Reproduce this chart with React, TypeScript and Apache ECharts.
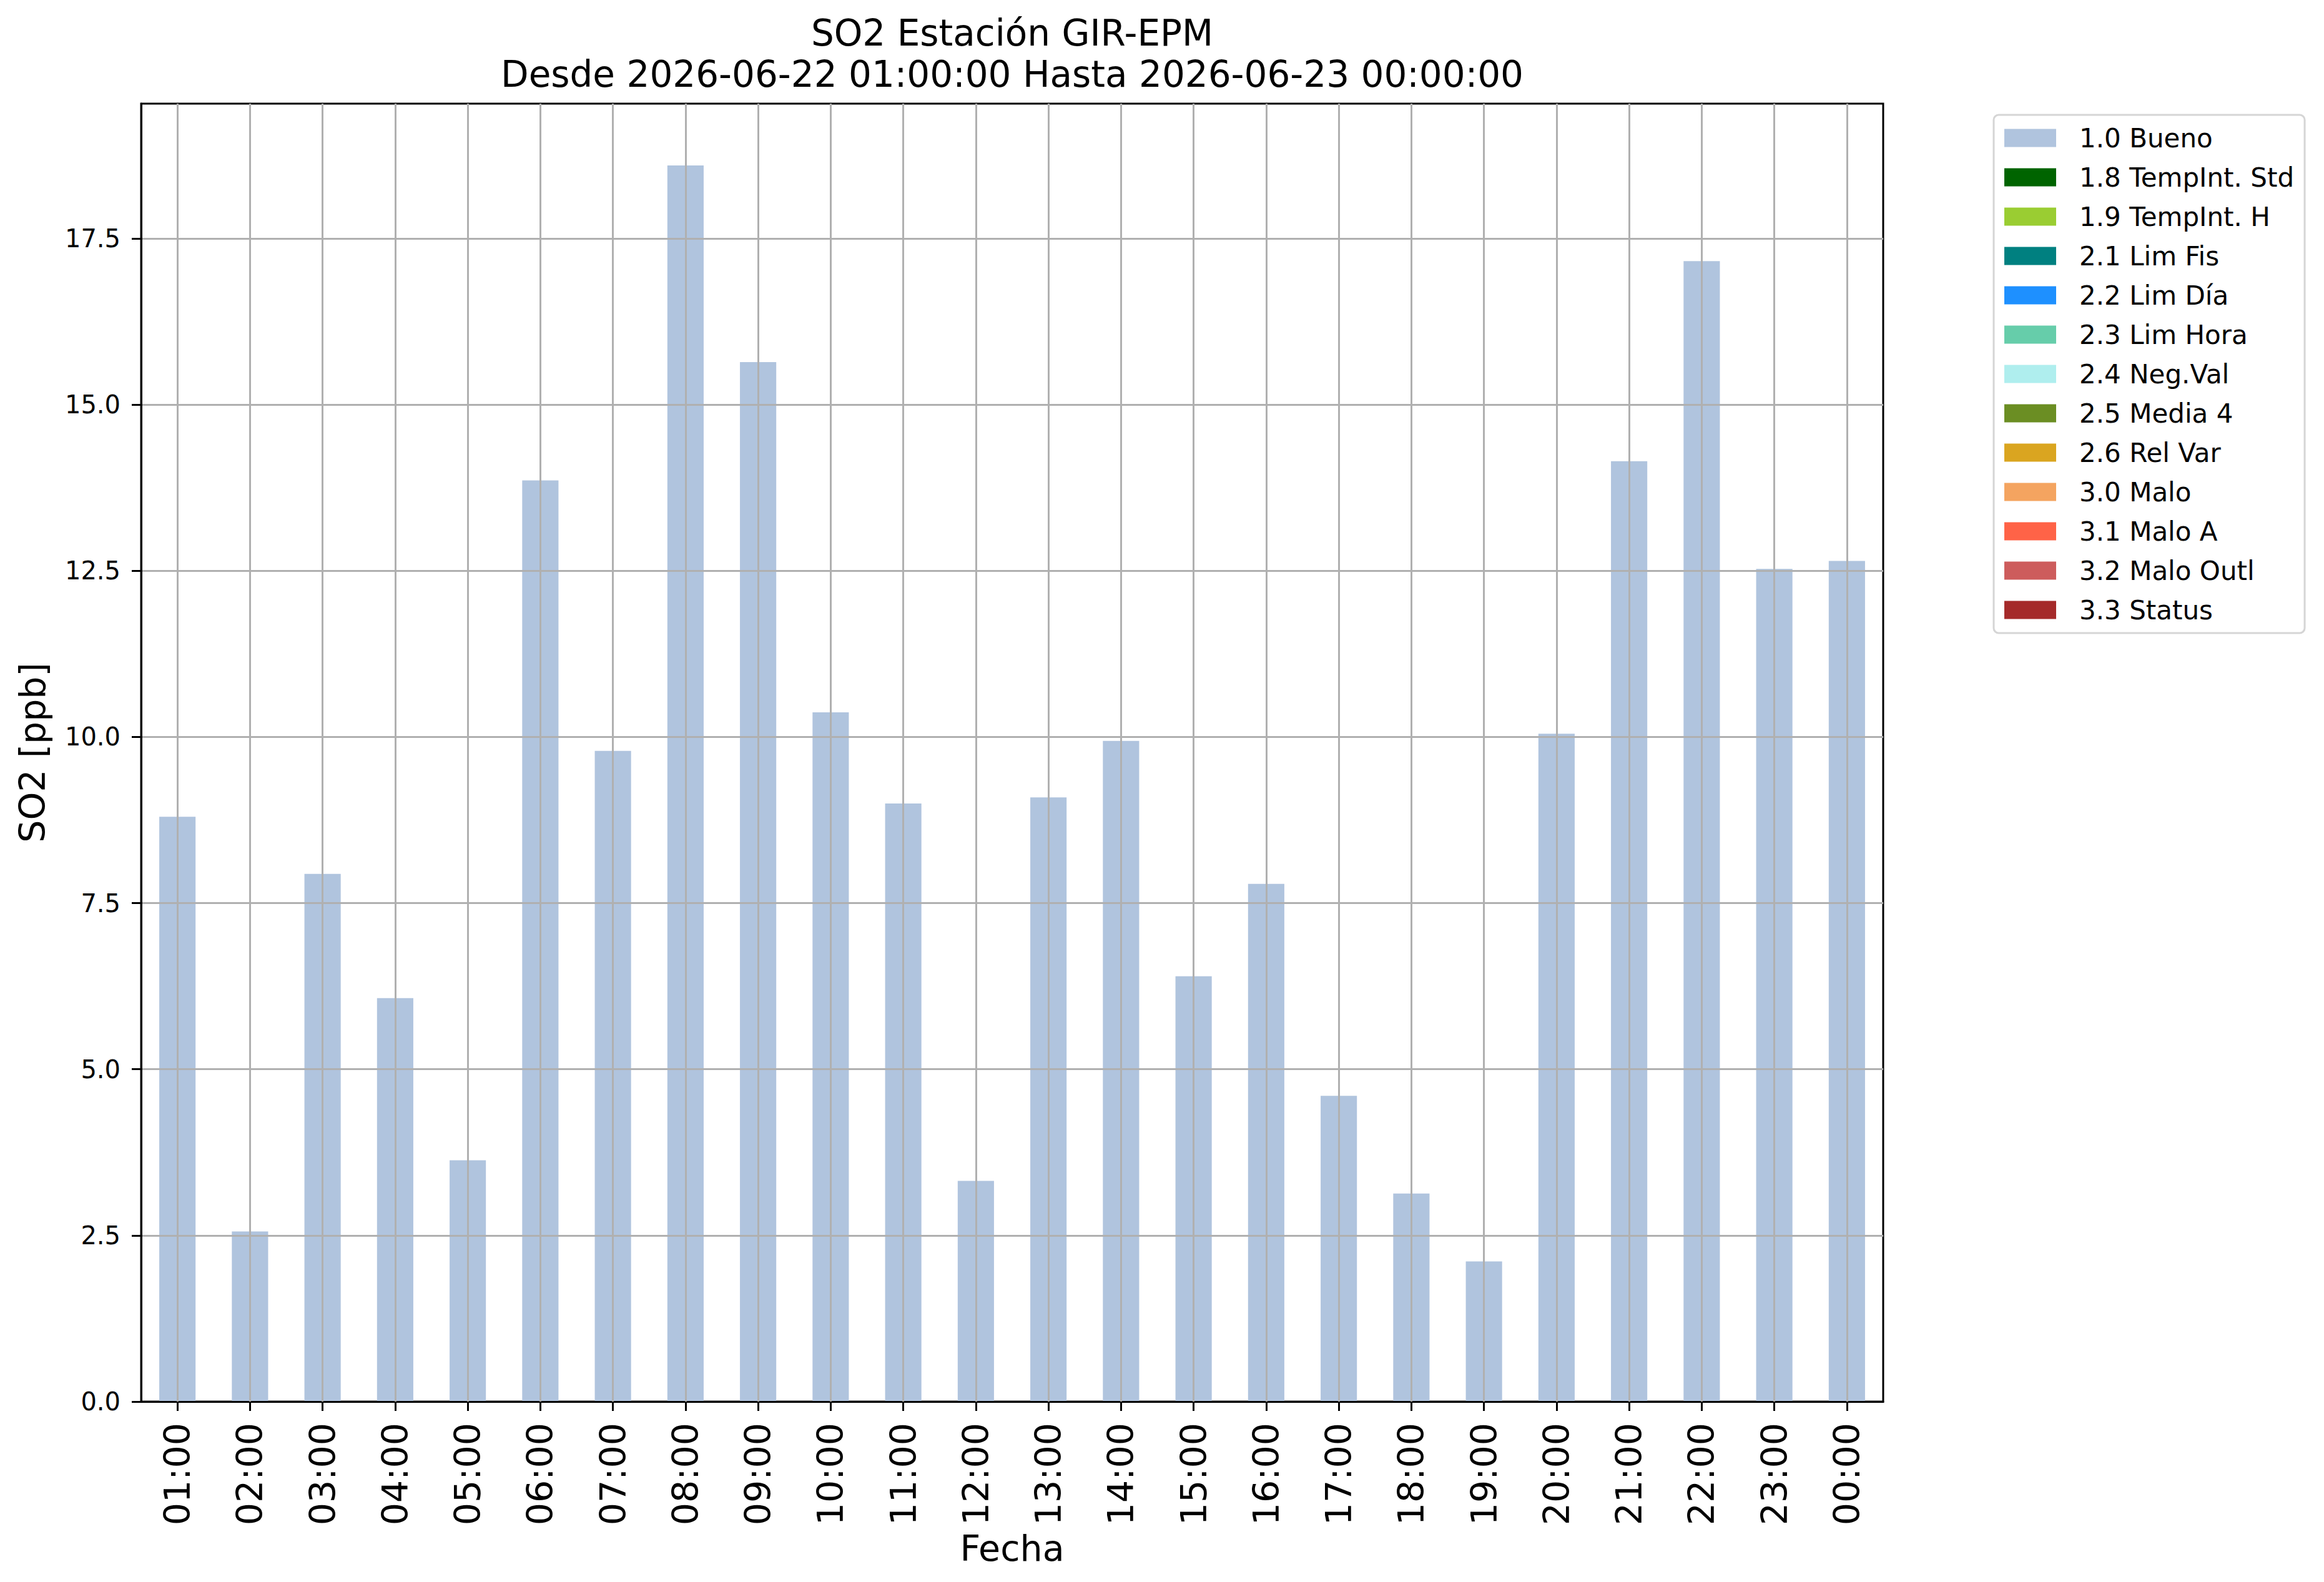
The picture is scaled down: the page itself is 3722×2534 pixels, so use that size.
import React, { useEffect, useRef } from "react";
import * as echarts from "echarts";

const categories = [
  "01:00", "02:00", "03:00", "04:00", "05:00", "06:00", "07:00", "08:00",
  "09:00", "10:00", "11:00", "12:00", "13:00", "14:00", "15:00", "16:00",
  "17:00", "18:00", "19:00", "20:00", "21:00", "22:00", "23:00", "00:00",
];

const buenoValues = [
  8.80, 2.56, 7.94, 6.07, 3.63, 13.86, 9.79, 18.60,
  15.64, 10.37, 9.00, 3.32, 9.09, 9.94, 6.40, 7.79,
  4.60, 3.13, 2.11, 10.05, 14.15, 17.16, 12.53, 12.65,
];

const legendNames = [
  "1.0 Bueno", "1.8 TempInt. Std", "1.9 TempInt. H", "2.1 Lim Fis",
  "2.2 Lim Día", "2.3 Lim Hora", "2.4 Neg.Val", "2.5 Media 4",
  "2.6 Rel Var", "3.0 Malo", "3.1 Malo A", "3.2 Malo Outl", "3.3 Status",
];

const legendColors = [
  "#b0c4de", "#006400", "#9acd32", "#008080", "#1e90ff", "#66cdaa",
  "#afeeee", "#6b8e23", "#daa520", "#f4a460", "#ff6347", "#cd5c5c", "#a52a2a",
];

const yTicks = [0, 2.5, 5, 7.5, 10, 12.5, 15, 17.5];
const yMax = 19.53;

const titleText = "SO2 Estación GIR-EPM\nDesde 2026-06-22 01:00:00 Hasta 2026-06-23 00:00:00";
const xName = "Fecha";
const yName = "SO2 [ppb]";

const FONT = "DejaVu Sans";

export default function App() {
  const ref = useRef<HTMLDivElement>(null);

  useEffect(() => {
    document.body.style.margin = "0";
    if (!ref.current) return;
    const chart = echarts.init(ref.current, null, { renderer: "svg" });

    const series = legendNames.map((name, i) => {
      const s: any = {
        type: "bar",
        name,
        stack: "quality",
        data: i === 0 ? buenoValues : [],
        barWidth: "50%",
        itemStyle: { color: legendColors[i] },
        z: 2,
      };
      if (i === 0) {
        s.markLine = {
          silent: true,
          symbol: ["none", "none"],
          label: { show: false },
          lineStyle: { color: "#b0b0b0", width: 3, type: "solid" },
          data: categories.map((c) => ({ xAxis: c })),
        };
      }
      return s;
    });

    chart.setOption({
      animation: false,
      backgroundColor: "#ffffff",
      textStyle: { fontFamily: FONT },
      title: {
        text: titleText,
        left: 1621,
        textAlign: "center",
        top: 20,
        padding: 0,
        textStyle: {
          fontFamily: FONT,
          fontSize: 58,
          fontWeight: "normal",
          color: "#000",
          lineHeight: 66,
        },
      },
      legend: {
        orient: "vertical",
        left: 3193,
        top: 184,
        padding: [16, 17, 16, 17],
        itemWidth: 83,
        itemHeight: 29,
        itemGap: 21,
        icon: "rect",
        selectedMode: false,
        borderColor: "#d5d5d5",
        borderWidth: 3,
        borderRadius: 8,
        backgroundColor: "#ffffff",
        data: legendNames,
        textStyle: {
          fontFamily: FONT,
          fontSize: 42,
          lineHeight: 42,
          color: "#000",
          padding: [0, 0, 0, 32],
        },
      },
      grid: {
        left: 226,
        right: 706,
        top: 166,
        bottom: 289,
        containLabel: false,
        show: true,
        borderColor: "#000",
        borderWidth: 3,
        backgroundColor: "transparent",
      },
      xAxis: {
        type: "category",
        data: categories,
        z: 3,
        boundaryGap: true,
        name: xName,
        nameLocation: "middle",
        nameGap: 186,
        nameTextStyle: { fontFamily: FONT, fontSize: 57, color: "#000" },
        axisLine: { show: true, lineStyle: { color: "#000", width: 3 } },
        axisTick: {
          show: true,
          alignWithLabel: true,
          length: 15,
          lineStyle: { color: "#000", width: 3 },
        },
        axisLabel: {
          rotate: 90,
          margin: 34,
          fontFamily: FONT,
          fontSize: 57,
          color: "#000",
          interval: 0,
        },
        splitLine: { show: false },
      },
      yAxis: {
        type: "value",
        min: 0,
        max: yMax,
        interval: 2.5,
        z: 3,
        name: yName,
        nameLocation: "middle",
        nameGap: 146,
        nameTextStyle: { fontFamily: FONT, fontSize: 57, color: "#000" },
        axisLine: { show: true, lineStyle: { color: "#000", width: 3 } },
        axisTick: {
          show: true,
          length: 15,
          customValues: yTicks,
          lineStyle: { color: "#000", width: 3 },
        },
        axisLabel: {
          margin: 33,
          fontFamily: FONT,
          fontSize: 40,
          color: "#000",
          customValues: yTicks,
          formatter: (v: number) => v.toFixed(1),
        },
        splitLine: { show: true, lineStyle: { color: "#b0b0b0", width: 3 } },
      },
      series,
    });

    return () => chart.dispose();
  }, []);

  return <div ref={ref} style={{ width: 3722, height: 2534 }} />;
}
